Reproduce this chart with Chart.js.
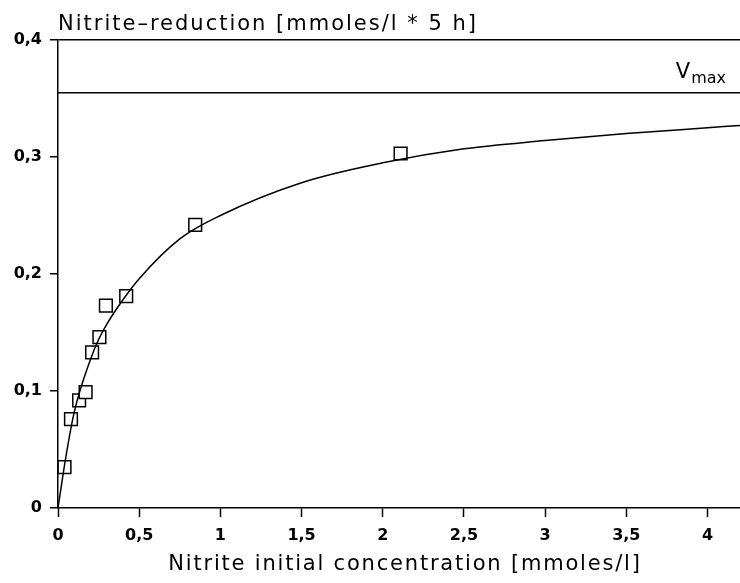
<!DOCTYPE html>
<html lang="en">
<head>
    <meta charset="UTF-8">
    <title>Nitrite reduction</title>
    <script src="https://cdn.jsdelivr.net/npm/chart.js"></script>
    <style>
        html, body { margin: 0; padding: 0; background: #fff; overflow: hidden; }
        .wrap { width: 740px; height: 583px; position: relative; }
    </style>
</head>
<body>
    <div class="wrap"><canvas id="nitriteChart"></canvas></div>

    <script>
        // measured points (nitrite mmoles/l, reduction mmoles/l per 5 h)
        const measuredX = [0.04, 0.08, 0.13, 0.17, 0.21, 0.255, 0.295, 0.42, 0.845, 2.11];
        const measuredY = [0.035, 0.076, 0.092, 0.099, 0.133, 0.146, 0.173, 0.181, 0.242, 0.303];

        // fitted curve
        const curveX = [0, 0.05, 0.1, 0.2, 0.25, 0.3, 0.4, 0.5, 0.75, 1, 1.5, 2, 2.5, 3, 3.5, 4, 4.2];
        const curveY = [0, 0.045, 0.082, 0.127, 0.144, 0.157, 0.178, 0.196, 0.230, 0.250, 0.278, 0.295, 0.307, 0.314, 0.320, 0.325, 0.327];

        const vmax = 0.355;
        const vmaxX = [0, 4.2];

        const xTicks = [0, 0.5, 1, 1.5, 2, 2.5, 3, 3.5, 4];
        const yTicks = [0, 0.1, 0.2, 0.3, 0.4];

        const yTitle = 'Nitrite\u2013reduction [mmoles/l * 5 h]';
        const xTitle = 'Nitrite initial concentration [mmoles/l]';

        const fontFamily = "'DejaVu Sans', sans-serif";

        function fmt(v) {
            const r = Math.round(v * 10) / 10;
            return r === 0 ? '0' : String(r).replace('.', ',');
        }

        const labelsPlugin = {
            id: 'labels',
            afterDraw(chart) {
                const { ctx, chartArea, scales } = chart;
                ctx.save();
                ctx.fillStyle = '#000';
                ctx.textBaseline = 'alphabetic';
                ctx.textAlign = 'left';
                ctx.font = '21px ' + fontFamily;
                ctx.letterSpacing = '2px';
                ctx.fillText(yTitle, chartArea.left, chartArea.top - 10);

                ctx.letterSpacing = '1.8px';
                ctx.textAlign = 'center';
                ctx.fillText(xTitle, (chartArea.left + chartArea.right) / 2 + 6, chartArea.bottom + 62);

                // V max label
                ctx.letterSpacing = '0px';
                const xr = scales.x.getPixelForValue(4.2) - 14;
                const yl = scales.y.getPixelForValue(vmax);
                ctx.font = '16px ' + fontFamily;
                ctx.textAlign = 'right';
                const w = ctx.measureText('max').width;
                ctx.fillText('max', xr, yl - 10);
                ctx.font = '21px ' + fontFamily;
                ctx.fillText('V', xr - w - 1, yl - 15);
                ctx.restore();
            }
        };

        const ctx = document.getElementById('nitriteChart').getContext('2d');
        new Chart(ctx, {
            type: 'scatter',
            data: {
                datasets: [
                    {
                        label: 'Vmax',
                        data: vmaxX.map(x => ({ x: x, y: vmax })),
                        showLine: true,
                        borderColor: '#000',
                        borderWidth: 1.5,
                        pointRadius: 0
                    },
                    {
                        label: 'fit',
                        data: curveX.map((x, i) => ({ x: x, y: curveY[i] })),
                        showLine: true,
                        borderColor: '#000',
                        borderWidth: 1.5,
                        pointRadius: 0,
                        cubicInterpolationMode: 'monotone'
                    },
                    {
                        label: 'measured',
                        data: measuredX.map((x, i) => ({ x: x, y: measuredY[i] })),
                        pointStyle: 'rect',
                        pointRadius: 9,
                        pointBorderWidth: 1.5,
                        pointBorderColor: '#000',
                        pointBackgroundColor: '#fff'
                    }
                ]
            },
            options: {
                responsive: true,
                maintainAspectRatio: false,
                animation: false,
                layout: { autoPadding: false, padding: { top: 40, right: 0, left: 0, bottom: 0 } },
                plugins: {
                    legend: { display: false },
                    tooltip: { enabled: false }
                },
                scales: {
                    x: {
                        type: 'linear',
                        min: 0,
                        max: 4.2,
                        afterBuildTicks: s => { s.ticks = xTicks.map(v => ({ value: v })); },
                        afterFit: s => { s.height = 75; s.paddingRight = 0; s.paddingLeft = 0; },
                        ticks: {
                            color: '#000',
                            font: { family: fontFamily, size: 16, weight: 'bold' },
                            padding: 9,
                            maxRotation: 0,
                            callback: v => fmt(v)
                        },
                        grid: { color: 'transparent', tickColor: '#000', tickLength: 9, tickWidth: 1.5 },
                        border: { display: true, color: '#000', width: 1.5 }
                    },
                    y: {
                        type: 'linear',
                        min: 0,
                        max: 0.4,
                        afterBuildTicks: s => { s.ticks = yTicks.map(v => ({ value: v })); },
                        afterFit: s => { s.width = 58; s.paddingTop = 0; s.paddingBottom = 0; },
                        ticks: {
                            color: '#000',
                            font: { family: fontFamily, size: 16, weight: 'bold' },
                            padding: 8,
                            callback: v => fmt(v)
                        },
                        grid: {
                            color: c => (c.tick && c.tick.value === 0.4 ? '#000' : 'transparent'),
                            lineWidth: 1.5,
                            tickColor: '#000',
                            tickLength: 8,
                            tickWidth: 1.5
                        },
                        border: { display: true, color: '#000', width: 1.5 }
                    }
                }
            },
            plugins: [labelsPlugin]
        });
    </script>
</body>
</html>
